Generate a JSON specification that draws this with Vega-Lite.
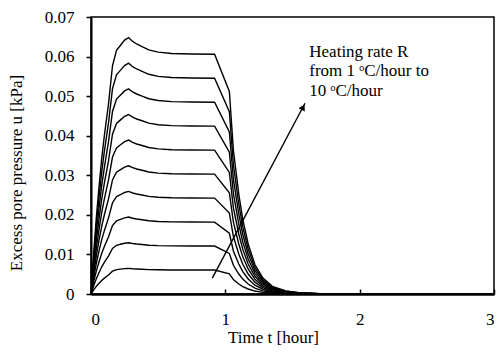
{
  "$schema": "https://vega.github.io/schema/vega-lite/v6.json",
  "width": 403,
  "height": 277,
  "autosize": "none",
  "padding": {"left": 91, "top": 17, "right": 5, "bottom": 58},
  "background": "white",
  "config": {
    "font": "Liberation Serif",
    "view": {"stroke": "black", "strokeWidth": 1.5},
    "axis": {"grid": false, "domainColor": "black", "tickColor": "black", "labelColor": "black", "titleColor": "black", "labelFont": "Liberation Serif", "titleFont": "Liberation Serif", "labelFontSize": 17, "titleFontSize": 17, "titleFontWeight": "normal"}
  },
  "datasets": {
    "curves": [
      {"k":1,"t":0,"u":0},{"k":1,"t":0.02,"u":0.001037},{"k":1,"t":0.04,"u":0.001944},{"k":1,"t":0.06,"u":0.002722},{"k":1,"t":0.08,"u":0.003434},{"k":1,"t":0.1,"u":0.004018},{"k":1,"t":0.13,"u":0.004795},{"k":1,"t":0.16,"u":0.005767},{"k":1,"t":0.19,"u":0.006156},{"k":1,"t":0.22,"u":0.006286},{"k":1,"t":0.25,"u":0.006415},{"k":1,"t":0.28,"u":0.00648},{"k":1,"t":0.31,"u":0.006383},{"k":1,"t":0.34,"u":0.006318},{"k":1,"t":0.38,"u":0.006253},{"k":1,"t":0.43,"u":0.006169},{"k":1,"t":0.5,"u":0.006111},{"k":1,"t":0.6,"u":0.006078},{"k":1,"t":0.75,"u":0.006065},{"k":1,"t":0.92,"u":0.006059},{"k":1,"t":1.03,"u":0.005119},{"k":1,"t":1.06,"u":0.003629},{"k":1,"t":1.1,"u":0.002527},{"k":1,"t":1.13,"u":0.001879},{"k":1,"t":1.17,"u":0.001264},{"k":1,"t":1.22,"u":0.000745},{"k":1,"t":1.28,"u":0.000402},{"k":1,"t":1.35,"u":0.000194},{"k":1,"t":1.45,"u":0.000078},{"k":1,"t":1.55,"u":0.000032},{"k":1,"t":1.7,"u":0.00001},{"k":1,"t":1.9,"u":0.000002},{"k":1,"t":2.2,"u":0},{"k":1,"t":3,"u":0},
      {"k":2,"t":0,"u":0},{"k":2,"t":0.02,"u":0.002074},{"k":2,"t":0.04,"u":0.003888},{"k":2,"t":0.06,"u":0.005443},{"k":2,"t":0.08,"u":0.006869},{"k":2,"t":0.1,"u":0.008035},{"k":2,"t":0.13,"u":0.00959},{"k":2,"t":0.16,"u":0.011534},{"k":2,"t":0.19,"u":0.012312},{"k":2,"t":0.22,"u":0.012571},{"k":2,"t":0.25,"u":0.01283},{"k":2,"t":0.28,"u":0.01296},{"k":2,"t":0.31,"u":0.012766},{"k":2,"t":0.34,"u":0.012636},{"k":2,"t":0.38,"u":0.012506},{"k":2,"t":0.43,"u":0.012338},{"k":2,"t":0.5,"u":0.012221},{"k":2,"t":0.6,"u":0.012156},{"k":2,"t":0.75,"u":0.012131},{"k":2,"t":0.92,"u":0.012118},{"k":2,"t":1.03,"u":0.010238},{"k":2,"t":1.06,"u":0.007258},{"k":2,"t":1.1,"u":0.005054},{"k":2,"t":1.13,"u":0.003758},{"k":2,"t":1.17,"u":0.002527},{"k":2,"t":1.22,"u":0.00149},{"k":2,"t":1.28,"u":0.000804},{"k":2,"t":1.35,"u":0.000389},{"k":2,"t":1.45,"u":0.000156},{"k":2,"t":1.55,"u":0.000065},{"k":2,"t":1.7,"u":0.000019},{"k":2,"t":1.9,"u":0.000004},{"k":2,"t":2.2,"u":0},{"k":2,"t":3,"u":0},
      {"k":3,"t":0,"u":0},{"k":3,"t":0.02,"u":0.00311},{"k":3,"t":0.04,"u":0.005832},{"k":3,"t":0.06,"u":0.008165},{"k":3,"t":0.08,"u":0.010303},{"k":3,"t":0.1,"u":0.012053},{"k":3,"t":0.13,"u":0.014386},{"k":3,"t":0.16,"u":0.017302},{"k":3,"t":0.19,"u":0.018468},{"k":3,"t":0.22,"u":0.018857},{"k":3,"t":0.25,"u":0.019246},{"k":3,"t":0.28,"u":0.01944},{"k":3,"t":0.31,"u":0.019148},{"k":3,"t":0.34,"u":0.018954},{"k":3,"t":0.38,"u":0.01876},{"k":3,"t":0.43,"u":0.018507},{"k":3,"t":0.5,"u":0.018332},{"k":3,"t":0.6,"u":0.018235},{"k":3,"t":0.75,"u":0.018196},{"k":3,"t":0.92,"u":0.018176},{"k":3,"t":1.03,"u":0.015358},{"k":3,"t":1.06,"u":0.010886},{"k":3,"t":1.1,"u":0.007582},{"k":3,"t":1.13,"u":0.005638},{"k":3,"t":1.17,"u":0.003791},{"k":3,"t":1.22,"u":0.002236},{"k":3,"t":1.28,"u":0.001205},{"k":3,"t":1.35,"u":0.000583},{"k":3,"t":1.45,"u":0.000233},{"k":3,"t":1.55,"u":0.000097},{"k":3,"t":1.7,"u":0.000029},{"k":3,"t":1.9,"u":0.000006},{"k":3,"t":2.2,"u":0},{"k":3,"t":3,"u":0},
      {"k":4,"t":0,"u":0},{"k":4,"t":0.02,"u":0.004147},{"k":4,"t":0.04,"u":0.007776},{"k":4,"t":0.06,"u":0.010886},{"k":4,"t":0.08,"u":0.013738},{"k":4,"t":0.1,"u":0.01607},{"k":4,"t":0.13,"u":0.019181},{"k":4,"t":0.16,"u":0.023069},{"k":4,"t":0.19,"u":0.024624},{"k":4,"t":0.22,"u":0.025142},{"k":4,"t":0.25,"u":0.025661},{"k":4,"t":0.28,"u":0.02592},{"k":4,"t":0.31,"u":0.025531},{"k":4,"t":0.34,"u":0.025272},{"k":4,"t":0.38,"u":0.025013},{"k":4,"t":0.43,"u":0.024676},{"k":4,"t":0.5,"u":0.024443},{"k":4,"t":0.6,"u":0.024313},{"k":4,"t":0.75,"u":0.024261},{"k":4,"t":0.92,"u":0.024235},{"k":4,"t":1.03,"u":0.020477},{"k":4,"t":1.06,"u":0.014515},{"k":4,"t":1.1,"u":0.010109},{"k":4,"t":1.13,"u":0.007517},{"k":4,"t":1.17,"u":0.005054},{"k":4,"t":1.22,"u":0.002981},{"k":4,"t":1.28,"u":0.001607},{"k":4,"t":1.35,"u":0.000778},{"k":4,"t":1.45,"u":0.000311},{"k":4,"t":1.55,"u":0.00013},{"k":4,"t":1.7,"u":0.000039},{"k":4,"t":1.9,"u":0.000008},{"k":4,"t":2.2,"u":0},{"k":4,"t":3,"u":0},
      {"k":5,"t":0,"u":0},{"k":5,"t":0.02,"u":0.005184},{"k":5,"t":0.04,"u":0.00972},{"k":5,"t":0.06,"u":0.013608},{"k":5,"t":0.08,"u":0.017172},{"k":5,"t":0.1,"u":0.020088},{"k":5,"t":0.13,"u":0.023976},{"k":5,"t":0.16,"u":0.028836},{"k":5,"t":0.19,"u":0.03078},{"k":5,"t":0.22,"u":0.031428},{"k":5,"t":0.25,"u":0.032076},{"k":5,"t":0.28,"u":0.0324},{"k":5,"t":0.31,"u":0.031914},{"k":5,"t":0.34,"u":0.03159},{"k":5,"t":0.38,"u":0.031266},{"k":5,"t":0.43,"u":0.030845},{"k":5,"t":0.5,"u":0.030553},{"k":5,"t":0.6,"u":0.030391},{"k":5,"t":0.75,"u":0.030326},{"k":5,"t":0.92,"u":0.030294},{"k":5,"t":1.03,"u":0.025596},{"k":5,"t":1.06,"u":0.018144},{"k":5,"t":1.1,"u":0.012636},{"k":5,"t":1.13,"u":0.009396},{"k":5,"t":1.17,"u":0.006318},{"k":5,"t":1.22,"u":0.003726},{"k":5,"t":1.28,"u":0.002009},{"k":5,"t":1.35,"u":0.000972},{"k":5,"t":1.45,"u":0.000389},{"k":5,"t":1.55,"u":0.000162},{"k":5,"t":1.7,"u":0.000049},{"k":5,"t":1.9,"u":0.00001},{"k":5,"t":2.2,"u":0},{"k":5,"t":3,"u":0},
      {"k":6,"t":0,"u":0},{"k":6,"t":0.02,"u":0.006221},{"k":6,"t":0.04,"u":0.011664},{"k":6,"t":0.06,"u":0.01633},{"k":6,"t":0.08,"u":0.020606},{"k":6,"t":0.1,"u":0.024106},{"k":6,"t":0.13,"u":0.028771},{"k":6,"t":0.16,"u":0.034603},{"k":6,"t":0.19,"u":0.036936},{"k":6,"t":0.22,"u":0.037714},{"k":6,"t":0.25,"u":0.038491},{"k":6,"t":0.28,"u":0.03888},{"k":6,"t":0.31,"u":0.038297},{"k":6,"t":0.34,"u":0.037908},{"k":6,"t":0.38,"u":0.037519},{"k":6,"t":0.43,"u":0.037014},{"k":6,"t":0.5,"u":0.036664},{"k":6,"t":0.6,"u":0.036469},{"k":6,"t":0.75,"u":0.036392},{"k":6,"t":0.92,"u":0.036353},{"k":6,"t":1.03,"u":0.030715},{"k":6,"t":1.06,"u":0.021773},{"k":6,"t":1.1,"u":0.015163},{"k":6,"t":1.13,"u":0.011275},{"k":6,"t":1.17,"u":0.007582},{"k":6,"t":1.22,"u":0.004471},{"k":6,"t":1.28,"u":0.002411},{"k":6,"t":1.35,"u":0.001166},{"k":6,"t":1.45,"u":0.000467},{"k":6,"t":1.55,"u":0.000194},{"k":6,"t":1.7,"u":0.000058},{"k":6,"t":1.9,"u":0.000012},{"k":6,"t":2.2,"u":0},{"k":6,"t":3,"u":0},
      {"k":7,"t":0,"u":0},{"k":7,"t":0.02,"u":0.007258},{"k":7,"t":0.04,"u":0.013608},{"k":7,"t":0.06,"u":0.019051},{"k":7,"t":0.08,"u":0.024041},{"k":7,"t":0.1,"u":0.028123},{"k":7,"t":0.13,"u":0.033566},{"k":7,"t":0.16,"u":0.04037},{"k":7,"t":0.19,"u":0.043092},{"k":7,"t":0.22,"u":0.043999},{"k":7,"t":0.25,"u":0.044906},{"k":7,"t":0.28,"u":0.04536},{"k":7,"t":0.31,"u":0.04468},{"k":7,"t":0.34,"u":0.044226},{"k":7,"t":0.38,"u":0.043772},{"k":7,"t":0.43,"u":0.043183},{"k":7,"t":0.5,"u":0.042774},{"k":7,"t":0.6,"u":0.042548},{"k":7,"t":0.75,"u":0.042457},{"k":7,"t":0.92,"u":0.042412},{"k":7,"t":1.03,"u":0.035834},{"k":7,"t":1.06,"u":0.025402},{"k":7,"t":1.1,"u":0.01769},{"k":7,"t":1.13,"u":0.013154},{"k":7,"t":1.17,"u":0.008845},{"k":7,"t":1.22,"u":0.005216},{"k":7,"t":1.28,"u":0.002812},{"k":7,"t":1.35,"u":0.001361},{"k":7,"t":1.45,"u":0.000544},{"k":7,"t":1.55,"u":0.000227},{"k":7,"t":1.7,"u":0.000068},{"k":7,"t":1.9,"u":0.000014},{"k":7,"t":2.2,"u":0},{"k":7,"t":3,"u":0},
      {"k":8,"t":0,"u":0},{"k":8,"t":0.02,"u":0.008294},{"k":8,"t":0.04,"u":0.015552},{"k":8,"t":0.06,"u":0.021773},{"k":8,"t":0.08,"u":0.027475},{"k":8,"t":0.1,"u":0.032141},{"k":8,"t":0.13,"u":0.038362},{"k":8,"t":0.16,"u":0.046138},{"k":8,"t":0.19,"u":0.049248},{"k":8,"t":0.22,"u":0.050285},{"k":8,"t":0.25,"u":0.051322},{"k":8,"t":0.28,"u":0.05184},{"k":8,"t":0.31,"u":0.051062},{"k":8,"t":0.34,"u":0.050544},{"k":8,"t":0.38,"u":0.050026},{"k":8,"t":0.43,"u":0.049352},{"k":8,"t":0.5,"u":0.048885},{"k":8,"t":0.6,"u":0.048626},{"k":8,"t":0.75,"u":0.048522},{"k":8,"t":0.92,"u":0.04847},{"k":8,"t":1.03,"u":0.040954},{"k":8,"t":1.06,"u":0.02903},{"k":8,"t":1.1,"u":0.020218},{"k":8,"t":1.13,"u":0.015034},{"k":8,"t":1.17,"u":0.010109},{"k":8,"t":1.22,"u":0.005962},{"k":8,"t":1.28,"u":0.003214},{"k":8,"t":1.35,"u":0.001555},{"k":8,"t":1.45,"u":0.000622},{"k":8,"t":1.55,"u":0.000259},{"k":8,"t":1.7,"u":0.000078},{"k":8,"t":1.9,"u":0.000016},{"k":8,"t":2.2,"u":0},{"k":8,"t":3,"u":0},
      {"k":9,"t":0,"u":0},{"k":9,"t":0.02,"u":0.009331},{"k":9,"t":0.04,"u":0.017496},{"k":9,"t":0.06,"u":0.024494},{"k":9,"t":0.08,"u":0.03091},{"k":9,"t":0.1,"u":0.036158},{"k":9,"t":0.13,"u":0.043157},{"k":9,"t":0.16,"u":0.051905},{"k":9,"t":0.19,"u":0.055404},{"k":9,"t":0.22,"u":0.05657},{"k":9,"t":0.25,"u":0.057737},{"k":9,"t":0.28,"u":0.05832},{"k":9,"t":0.31,"u":0.057445},{"k":9,"t":0.34,"u":0.056862},{"k":9,"t":0.38,"u":0.056279},{"k":9,"t":0.43,"u":0.055521},{"k":9,"t":0.5,"u":0.054996},{"k":9,"t":0.6,"u":0.054704},{"k":9,"t":0.75,"u":0.054588},{"k":9,"t":0.92,"u":0.054529},{"k":9,"t":1.03,"u":0.046073},{"k":9,"t":1.06,"u":0.032659},{"k":9,"t":1.1,"u":0.022745},{"k":9,"t":1.13,"u":0.016913},{"k":9,"t":1.17,"u":0.011372},{"k":9,"t":1.22,"u":0.006707},{"k":9,"t":1.28,"u":0.003616},{"k":9,"t":1.35,"u":0.00175},{"k":9,"t":1.45,"u":0.0007},{"k":9,"t":1.55,"u":0.000292},{"k":9,"t":1.7,"u":0.000087},{"k":9,"t":1.9,"u":0.000017},{"k":9,"t":2.2,"u":0},{"k":9,"t":3,"u":0},
      {"k":10,"t":0,"u":0},{"k":10,"t":0.02,"u":0.01037},{"k":10,"t":0.04,"u":0.01944},{"k":10,"t":0.06,"u":0.02722},{"k":10,"t":0.08,"u":0.03434},{"k":10,"t":0.1,"u":0.04018},{"k":10,"t":0.13,"u":0.04795},{"k":10,"t":0.16,"u":0.05767},{"k":10,"t":0.19,"u":0.06156},{"k":10,"t":0.22,"u":0.06286},{"k":10,"t":0.25,"u":0.06415},{"k":10,"t":0.28,"u":0.0648},{"k":10,"t":0.31,"u":0.06383},{"k":10,"t":0.34,"u":0.06318},{"k":10,"t":0.38,"u":0.06253},{"k":10,"t":0.43,"u":0.06169},{"k":10,"t":0.5,"u":0.06111},{"k":10,"t":0.6,"u":0.06078},{"k":10,"t":0.75,"u":0.06065},{"k":10,"t":0.92,"u":0.06059},{"k":10,"t":1.03,"u":0.05119},{"k":10,"t":1.06,"u":0.03629},{"k":10,"t":1.1,"u":0.02527},{"k":10,"t":1.13,"u":0.01879},{"k":10,"t":1.17,"u":0.01264},{"k":10,"t":1.22,"u":0.00745},{"k":10,"t":1.28,"u":0.00402},{"k":10,"t":1.35,"u":0.00194},{"k":10,"t":1.45,"u":0.00078},{"k":10,"t":1.55,"u":0.00032},{"k":10,"t":1.7,"u":0.0001},{"k":10,"t":1.9,"u":0.00002},{"k":10,"t":2.2,"u":0},{"k":10,"t":3,"u":0}
    ],
    "arrow": [{"t":0.903,"u":0.004},{"t":1.593,"u":0.0482}],
    "head": [{"t":1.579,"u":0.0472}],
    "note": [{"t":1.625,"u":0.06,"label":"Heating rate R\nfrom 1 ᵒC/hour to\n10 ᵒC/hour"}]
  },
  "encoding": {
    "x": {"field": "t", "type": "quantitative", "scale": {"domain": [0, 3], "nice": false},
      "axis": {"title": "Time t [hour]", "values": [0, 1, 2, 3], "format": "d", "labelFont": "Liberation Serif", "labelFontSize": 17, "tickSize": -5, "labelPadding": 22, "domainWidth": 2.5, "tickWidth": 1.5, "titleX": 182, "titleY": 48, "titleBaseline": "alphabetic", "titleAlign": "center"}},
    "y": {"field": "u", "type": "quantitative", "scale": {"domain": [0, 0.07], "nice": false},
      "axis": {"title": "Excess pore pressure u [kPa]", "values": [0, 0.01, 0.02, 0.03, 0.04, 0.05, 0.06, 0.07], "format": ".2~f", "labelFont": "Liberation Serif", "labelFontSize": 17, "tickSize": 5, "labelPadding": 12, "domainWidth": 2, "tickWidth": 1.5, "titleX": -70, "titleY": 155.5, "titleBaseline": "alphabetic", "titleAlign": "center", "titleAngle": -90}}
  },
  "layer": [
    {"data": {"name": "curves"}, "mark": {"type": "line", "color": "black", "strokeWidth": 1.4, "clip": true}, "encoding": {"detail": {"field": "k", "type": "nominal"}}},
    {"data": {"name": "arrow"}, "mark": {"type": "line", "color": "black", "strokeWidth": 1.4}, "encoding": {}},
    {"data": {"name": "head"}, "mark": {"type": "point", "shape": "triangle-up", "filled": true, "color": "black", "size": 50, "angle": 28, "opacity": 1}, "encoding": {}},
    {"data": {"name": "note"}, "mark": {"type": "text", "align": "left", "baseline": "alphabetic", "lineBreak": "\n", "lineHeight": 19.7, "fontSize": 17, "font": "Liberation Serif", "color": "black"}, "encoding": {"text": {"field": "label"}}}
  ]
}
